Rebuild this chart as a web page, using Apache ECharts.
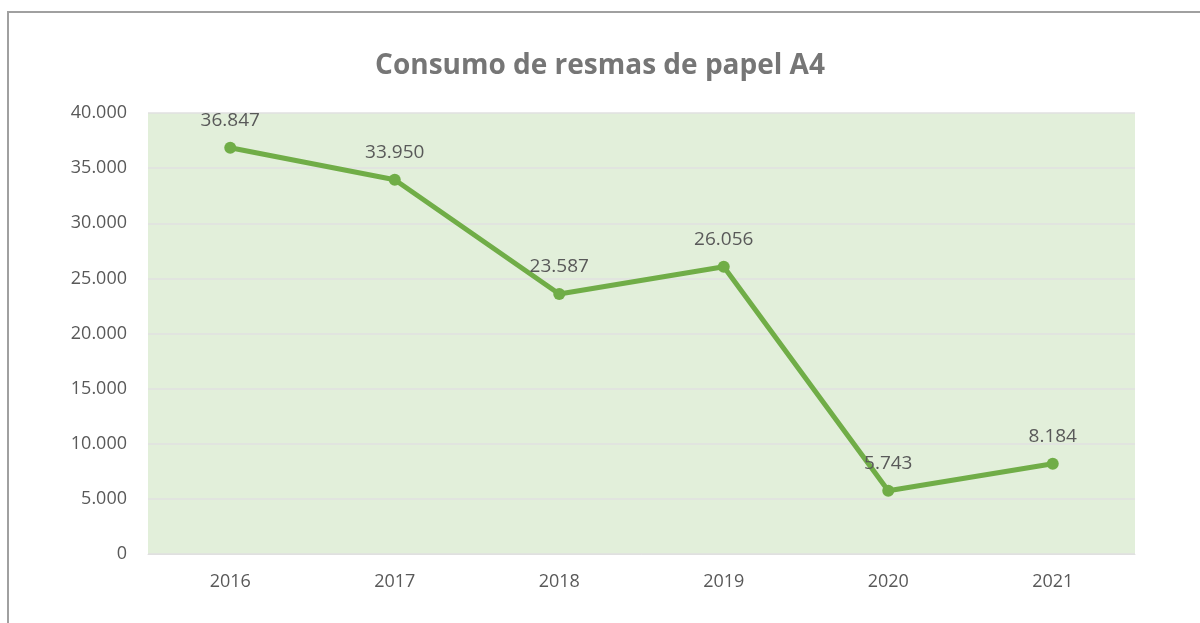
<!DOCTYPE html>
<html><head><meta charset="utf-8">
<script src="https://cdn.jsdelivr.net/npm/echarts@6/dist/echarts.min.js"></script>
<style>html,body{margin:0;padding:0;background:#fff}#c{width:1200px;height:623px}</style>
</head><body><div id="c"></div>
<script>
const categories = ['2016','2017','2018','2019','2020','2021'];
const values = [36847, 33950, 23587, 26056, 5743, 8184];
const titleText = 'Consumo de resmas de papel A4';

function fmt(v){ return String(v).replace(/\B(?=(\d{3})+(?!\d))/g,'.'); }

const chart = echarts.init(document.getElementById('c'), null, {renderer:'canvas'});
chart.setOption({
  animation:false,
  backgroundColor:'#fff',
  graphic:[{type:'rect', shape:{x:8,y:12,width:1200,height:640}, style:{fill:'none', stroke:'#a0a0a0', lineWidth:2}, z:-10}],
  title:{text:titleText, left:'center', top:47, textStyle:{fontFamily:'Open Sans', fontWeight:'bold', fontSize:28, color:'#767676'}},
  grid:{left:148, right:65, top:113, bottom:69, show:true, backgroundColor:'#E2EFDA', borderWidth:0},
  xAxis:{type:'category', data:categories, boundaryGap:true,
    axisLine:{show:true, lineStyle:{color:'#e0e0e0', width:1}}, axisTick:{show:false},
    axisLabel:{fontFamily:'Open Sans', fontSize:18, color:'#595959', margin:19}},
  yAxis:{type:'value', min:0, max:40000, interval:5000,
    axisLine:{show:false}, axisTick:{show:false},
    splitLine:{lineStyle:{color:'#e0e0e0', width:1.5}},
    axisLabel:{fontFamily:'Open Sans', fontSize:18, color:'#595959', margin:21, formatter:v=>fmt(v)}},
  series:[{type:'line', data:values, symbol:'circle', symbolSize:12,
    lineStyle:{color:'#70AD47', width:5}, itemStyle:{color:'#70AD47'},
    label:{show:true, position:'top', distance:12, fontFamily:'Open Sans', fontSize:19, color:'#595959', formatter:p=>fmt(p.value)}}]
});
</script></body></html>
